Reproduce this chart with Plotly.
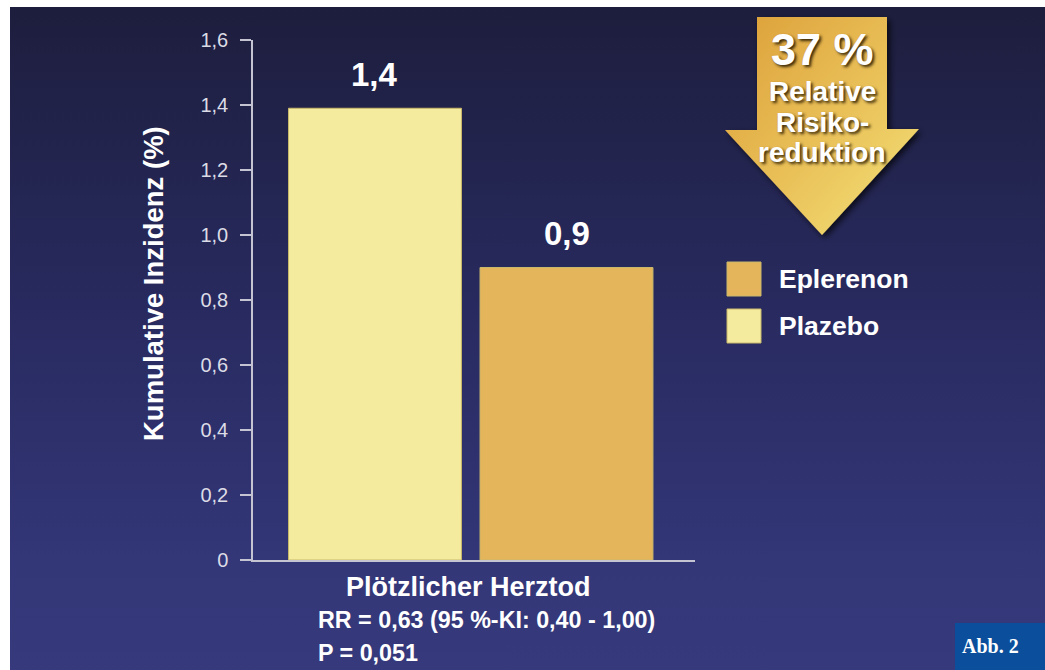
import base64
import plotly.graph_objects as go

# ---------------- data ----------------
categories = ["Plazebo", "Eplerenon"]
values = [1.39, 0.90]
value_labels = ["1,4", "0,9"]
bar_colors = ["#f4eb9e", "#e5b55c"]
legend_order = ["Eplerenon", "Plazebo"]
y_tickvals = [0, 0.2, 0.4, 0.6, 0.8, 1.0, 1.2, 1.4, 1.6]
y_ticktext = ["0", "0,2", "0,4", "0,6", "0,8", "1,0", "1,2", "1,4", "1,6"]
y_title = "Kumulative Inzidenz (%)"
x_title = "Plötzlicher Herztod"
stats_lines = ["RR = 0,63 (95 %-KI: 0,40 - 1,00)", "P = 0,051"]
arrow_lines = ["37 %", "Relative", "Risiko-", "reduktion"]
figure_tag = "Abb. 2"

# ---------------- geometry helpers ----------------
W, H = 1045, 670
PL, PR, PT, PB = 253, 695, 40, 560  # plot area in pixels


def px(x):
    return (x - PL) / (PR - PL)


def py(y):
    return (PB - y) / (PB - PT)


FONT = "Liberation Sans, Arial, Helvetica, sans-serif"

# ---------------- background (svg) ----------------
svg = f"""<svg xmlns='http://www.w3.org/2000/svg' width='{W}' height='{H}' viewBox='0 0 {W} {H}'>
<defs>
<linearGradient id='bg' x1='0' y1='0' x2='0' y2='1'>
<stop offset='0' stop-color='#1d1e3d'/>
<stop offset='0.45' stop-color='#282a5f'/>
<stop offset='0.83' stop-color='#333677'/>
<stop offset='1' stop-color='#36397b'/>
</linearGradient>
<linearGradient id='ar' x1='0' y1='0' x2='1' y2='1'>
<stop offset='0' stop-color='#dc9f38'/>
<stop offset='0.55' stop-color='#eac25a'/>
<stop offset='1' stop-color='#f4e47a'/>
</linearGradient>
<filter id='sh' x='-20%' y='-20%' width='140%' height='140%'>
<feGaussianBlur in='SourceAlpha' stdDeviation='3'/>
<feOffset dx='3' dy='3' result='b'/>
<feComponentTransfer><feFuncA type='linear' slope='0.7'/></feComponentTransfer>
<feMerge><feMergeNode/><feMergeNode in='SourceGraphic'/></feMerge>
</filter>
</defs>
<rect x='0' y='0' width='{W}' height='{H}' fill='#ffffff'/>
<rect x='10' y='7' width='{W-10}' height='{H-7}' fill='url(#bg)'/>
<polygon points='757,17 887,17 887,129 919,129 822,235 725,130 757,130' fill='url(#ar)' filter='url(#sh)'/>
<rect x='955' y='623' width='90' height='47' fill='#0b4f9c'/>
</svg>"""
svg_uri = "data:image/svg+xml;base64," + base64.b64encode(svg.encode()).decode()

fig = go.Figure()

bar_width = 0.903
for cat, val, col in zip(categories, values, bar_colors):
    fig.add_trace(go.Bar(
        x=[cat], y=[val], name=cat, width=bar_width,
        marker=dict(color=col, line=dict(color="#c9b86a", width=1)),
        showlegend=False, hoverinfo="x+y",
    ))

annotations = []
# value labels
for cat, val, lab in zip(categories, values, value_labels):
    annotations.append(dict(
        x=cat, y=val, xref="x", yref="y", text=lab, showarrow=False,
        yanchor="middle", yshift=34,
        font=dict(family=FONT, size=33, color="#ffffff", weight="bold"),
    ))

# y title
annotations.append(dict(
    x=px(153), y=py(284), xref="paper", yref="paper", text=y_title,
    textangle=-90, showarrow=False, xanchor="center", yanchor="middle",
    font=dict(family=FONT, size=27.5, color="#ffffff", weight="bold"),
))
# x title
annotations.append(dict(
    x=px(468), y=py(587), xref="paper", yref="paper", text=x_title,
    showarrow=False, xanchor="center", yanchor="middle",
    font=dict(family=FONT, size=27, color="#ffffff", weight="bold"),
))
# stats lines
for i, line in enumerate(stats_lines):
    annotations.append(dict(
        x=px(316), y=py(620 + 33 * i), xref="paper", yref="paper", text=line,
        showarrow=False, xanchor="left", yanchor="middle",
        font=dict(family=FONT, size=23.3, color="#ffffff", weight="bold"),
    ))

# arrow text
arrow_y = [49, 91, 122, 152]
arrow_sizes = [45, 28, 28, 28]
for line, yy, sz in zip(arrow_lines, arrow_y, arrow_sizes):
    annotations.append(dict(
        x=px(822), y=py(yy), xref="paper", yref="paper", text=line,
        showarrow=False, xanchor="center", yanchor="middle",
        font=dict(family=FONT, size=sz, color="#ffffff", weight="bold",
                  shadow="2px 2px 3px rgba(40,25,0,0.9)"),
    ))

# legend (custom, larger keys)
shapes = []
legend_y = [279, 326]
for name, yy in zip(legend_order, legend_y):
    col = bar_colors[categories.index(name)]
    shapes.append(dict(
        type="rect", xref="paper", yref="paper",
        x0=px(727), x1=px(761), y0=py(yy - 17), y1=py(yy + 17),
        fillcolor=col, line=dict(color="#c9b86a", width=1), layer="above",
    ))
    annotations.append(dict(
        x=px(777), y=py(yy), xref="paper", yref="paper", text=name,
        showarrow=False, xanchor="left", yanchor="middle",
        font=dict(family=FONT, size=26.5, color="#ffffff", weight="bold"),
    ))

# figure tag
annotations.append(dict(
    x=px(990), y=py(646), xref="paper", yref="paper", text=figure_tag,
    showarrow=False, xanchor="center", yanchor="middle",
    font=dict(family="Liberation Serif, Times New Roman, serif", size=20,
              color="#ffffff", weight="bold"),
))

axis_col = "#c4c4d2"
fig.update_layout(
    width=W, height=H,
    margin=dict(l=PL, r=W - PR, t=PT, b=H - PB, pad=0),
    paper_bgcolor="#ffffff",
    plot_bgcolor="rgba(0,0,0,0)",
    barmode="overlay",
    showlegend=False,
    images=[dict(
        source=svg_uri, xref="paper", yref="paper",
        x=px(0), y=py(0), sizex=W / (PR - PL), sizey=H / (PB - PT),
        xanchor="left", yanchor="top", sizing="stretch", layer="below",
    )],
    xaxis=dict(
        type="category", categoryorder="array", categoryarray=categories,
        range=[-0.637, 1.671], showticklabels=False, ticks="",
        showgrid=False, zeroline=False,
        showline=True, linecolor=axis_col, linewidth=1.5,
        fixedrange=True,
    ),
    yaxis=dict(
        range=[0, 1.6], tickvals=y_tickvals, ticktext=y_ticktext,
        ticks="outside", ticklen=11, tickwidth=1.5, tickcolor=axis_col,
        ticklabelstandoff=8,
        tickfont=dict(family=FONT, size=20, color="#dcdce6"),
        showgrid=False, zeroline=False,
        showline=True, linecolor=axis_col, linewidth=1.5,
        fixedrange=True,
    ),
    annotations=annotations,
    shapes=shapes,
)

fig.write_html("out.html")
